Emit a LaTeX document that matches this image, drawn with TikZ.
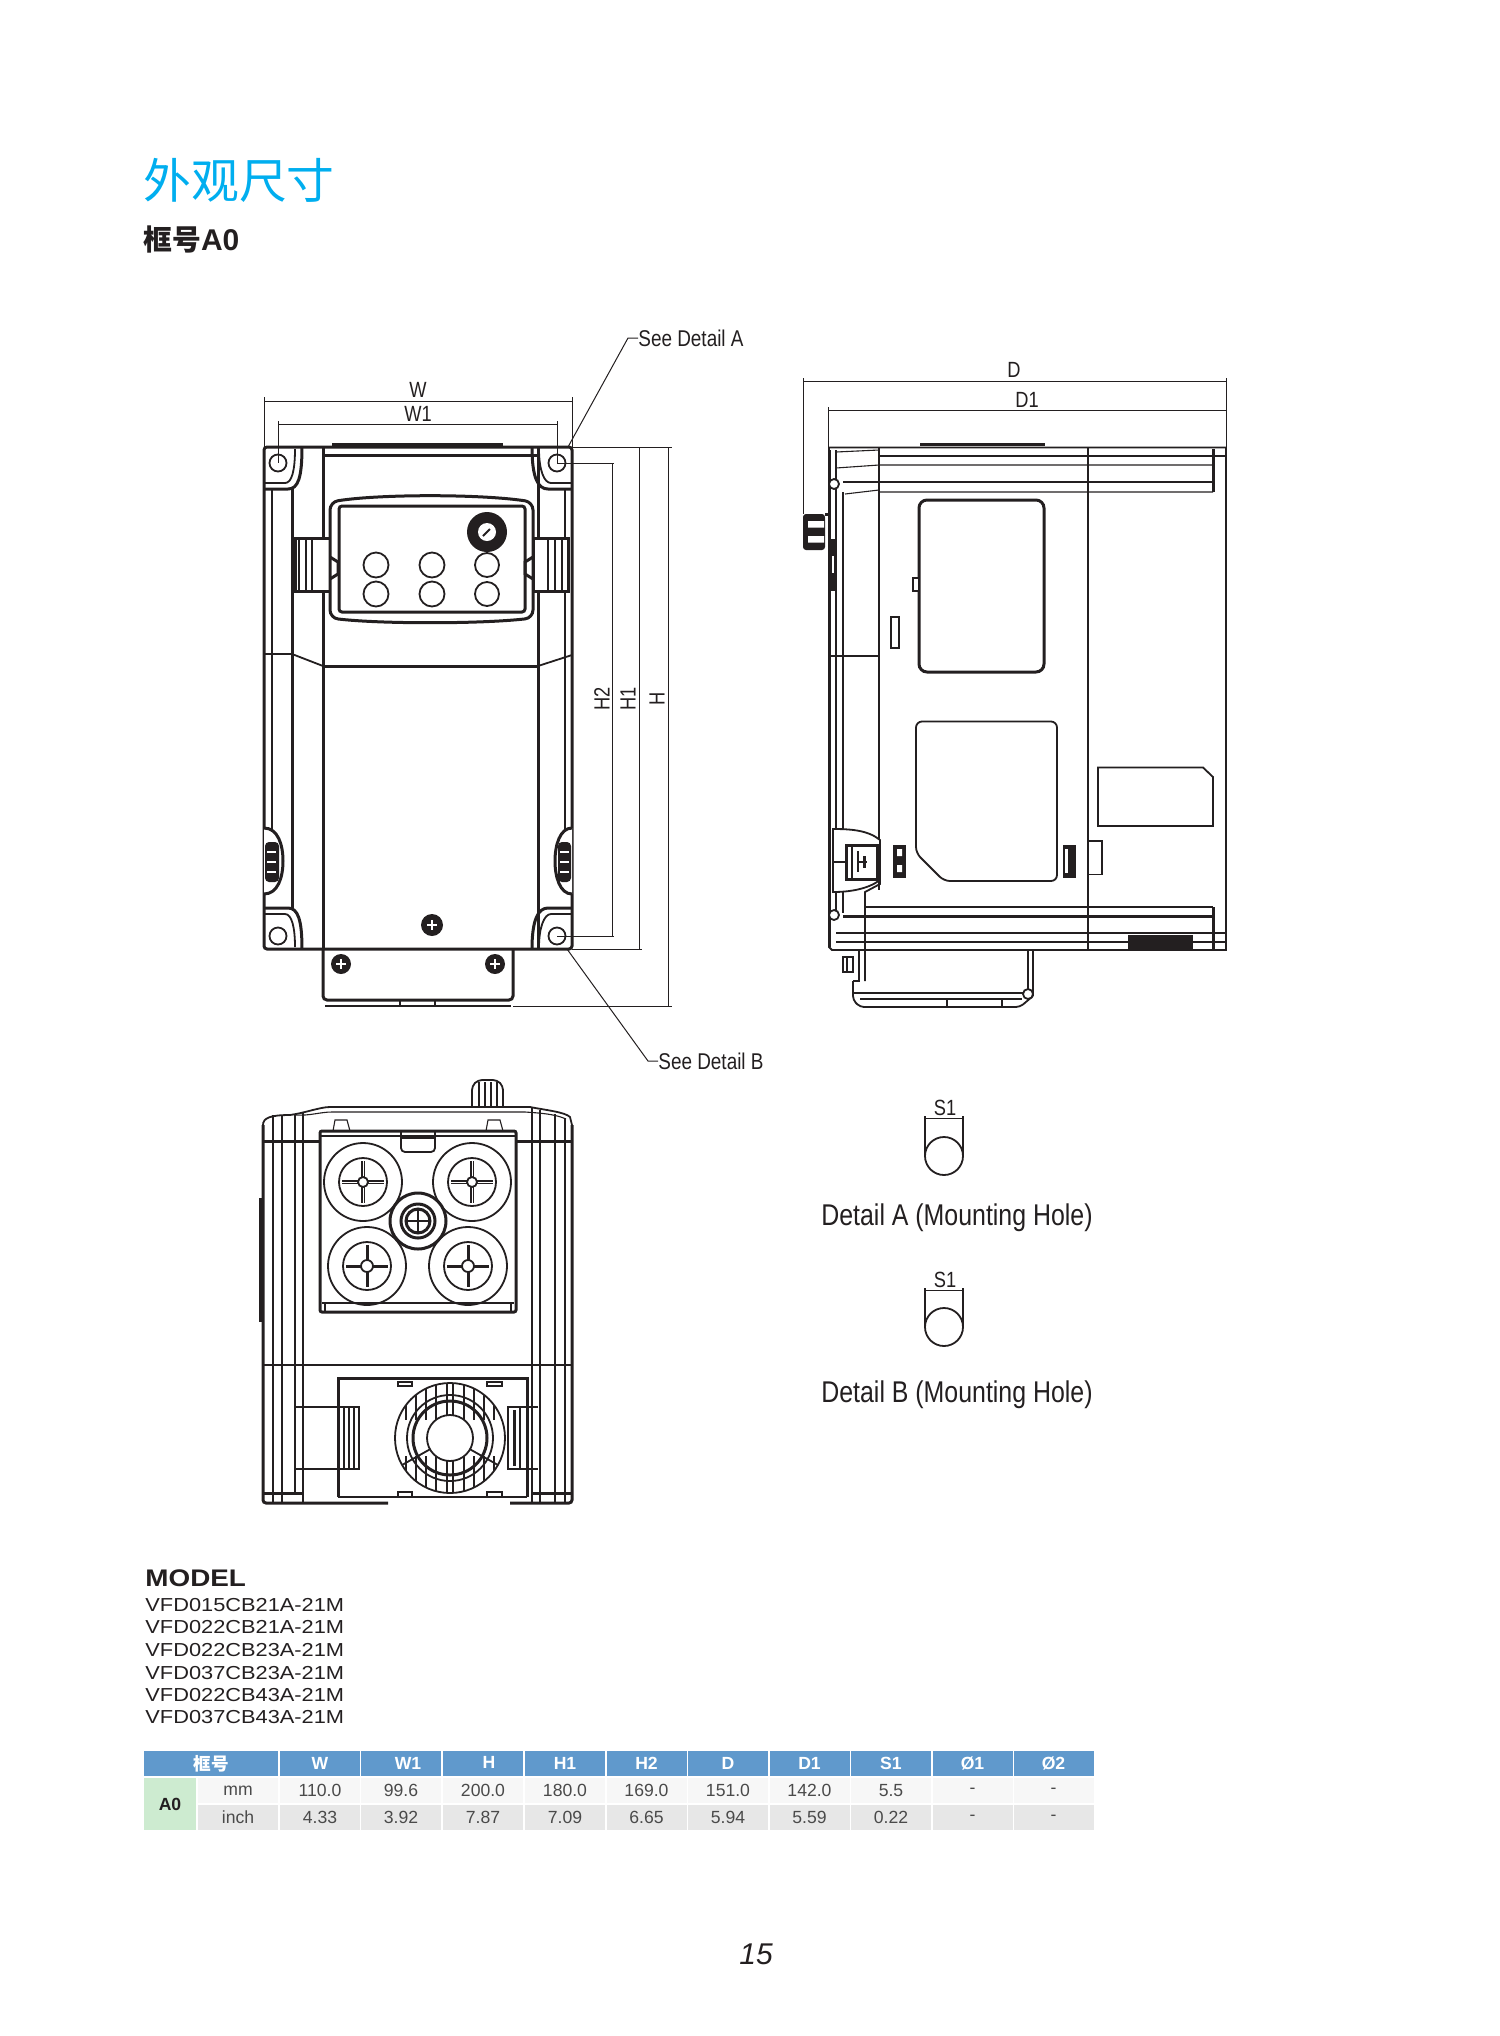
\documentclass[tikz,border=0pt]{standalone}
\usepackage{fontspec}
\setmainfont{Liberation Sans}
\newfontfamily\cjkfont{Noto Sans CJK SC}
\newfontfamily\narrowfont[FakeStretch=0.83]{Liberation Sans}
\newfontfamily\widefont[FakeStretch=1.16]{Liberation Sans}
\definecolor{inkline}{HTML}{231F20}
\definecolor{titleblue}{HTML}{00AEEF}
\definecolor{headblue}{HTML}{6099CC}
\definecolor{framegreen}{HTML}{CDEBD0}
\definecolor{rowlight}{HTML}{F7F7F7}
\definecolor{rowdark}{HTML}{E7E7E7}
\definecolor{cellink}{HTML}{4A4A4A}

\begin{document}
\begin{tikzpicture}
[x=0.5pt,y=-0.5pt]
\tikzset{
	thinline/.style = {draw=inkline, line width=0.55pt},
	midline/.style = {draw=inkline, line width=0.9pt},
	heavyline/.style = {draw=inkline, line width=1.5pt},
	dimline/.style = {draw=inkline, line width=0.5pt},
	dimlabel/.style = {inner sep=0, text=inkline, font=\narrowfont\fontsize{11}{13}\selectfont},
	seelabel/.style = {inner sep=0, anchor=west, text=inkline, font=\narrowfont\fontsize{11.4}{14}\selectfont},
	detaillabel/.style = {inner sep=0, text=inkline, font=\narrowfont\fontsize{15}{18}\selectfont},
	modellabel/.style = {inner sep=0, anchor=west, text=inkline, font=\widefont\fontsize{9.4}{11}\selectfont},
	headcell/.style = {inner sep=0, fill=headblue, text=white, minimum width=40pt, minimum height=12.5pt, font=\bfseries\fontsize{8.8}{10}\selectfont},
	lightcell/.style = {inner sep=0, fill=rowlight, text=cellink, minimum width=40pt, minimum height=12.5pt, font=\fontsize{8.8}{10}\selectfont},
	darkcell/.style = {inner sep=0, fill=rowdark, text=cellink, minimum width=40pt, minimum height=12.5pt, font=\fontsize{8.8}{10}\selectfont}
}
\useasboundingbox (0,0) rectangle (1500,2036);

\node (title) [inner sep=0, anchor=west, text=titleblue, font=\cjkfont\fontsize{23.9}{28}\selectfont] at (143,180) {外观尺寸};
\node (frame) [inner sep=0, anchor=west, text=inkline, font=\fontsize{14.4}{16}\selectfont] at (143,239) {{\cjkfont\bfseries 框号}{\bfseries\fontsize{15}{16}\selectfont A0}};

% front view
\draw [heavyline, rounded corners=1.5pt] (264,447) rectangle (572,949);
\draw [heavyline] (323,447) -- (323,949);
\draw [heavyline] (538,447) -- (538,949);
\draw [heavyline] (323,455) -- (538,455);
\draw [heavyline] (332,444.5) -- (503,444.5);
\draw [heavyline] (292,489) -- (292,908);
\draw [midline] (272,489) -- (272,833);
\draw [thinline] (565,489) -- (565,833);
\draw [heavyline] (323,666) -- (538,666);
\draw [midline] (264,654) -- (292,654) -- (323,666);
\draw [midline] (538,666) -- (572,655);
\draw [heavyline] (264,489) -- (288,489) .. controls (298,489) and (302,478) .. (302,447);
\draw [midline] (264,483) -- (285,483) .. controls (292,483) and (295,470) .. (295,449);
\draw [heavyline] (572,489) -- (548,489) .. controls (538,489) and (532,478) .. (532,447);
\draw [midline] (572,483) -- (551,483) .. controls (544,483) and (539,470) .. (539,449);
\draw [heavyline] (264,908) -- (288,908) .. controls (298,908) and (302,920) .. (302,949);
\draw [midline] (264,914) -- (285,914) .. controls (292,914) and (295,928) .. (295,947);
\draw [heavyline] (572,908) -- (548,908) .. controls (538,908) and (532,920) .. (532,949);
\draw [midline] (572,914) -- (551,914) .. controls (544,914) and (539,928) .. (539,947);
\draw [midline] (278,463) circle (8.5);
\draw [midline] (557,463) circle (8.5);
\draw [midline] (278,936) circle (8.5);
\draw [midline] (557,936) circle (8.5);
\draw [heavyline, fill=white] (295,538) rectangle (330,591);
\draw [heavyline, fill=white] (533,538) rectangle (568,591);
\draw [thinline] (299,538) -- (299,591) (306,538) -- (306,591) (312,538) -- (312,591);
\draw [thinline] (548,538) -- (548,591) (555,538) -- (555,591) (562,538) -- (562,591);
\draw [heavyline, fill=white, rounded corners=4pt] (330,502) .. controls (380,494) and (480,494) .. (533,502) -- (533,618) .. controls (480,624) and (380,624) .. (330,618) -- cycle;
\draw [heavyline, rounded corners=1.5pt] (339,506) rectangle (525,612);
\draw [heavyline] (330,557) -- (338,562) -- (338,574) -- (330,579);
\draw [heavyline] (533,557) -- (525,562) -- (525,574) -- (533,579);
\draw [fill=inkline, draw=none] (487,532) circle (20);
\draw [fill=white, draw=none] (487,532) circle (9);
\draw [midline] (483,536) -- (490,529);
\draw [midline] (376,565) circle (12.5);
\draw [midline] (432,565) circle (12.5);
\draw [midline] (487,565) circle (12);
\draw [midline] (376,594) circle (12.5);
\draw [midline] (432,594) circle (12.5);
\draw [midline] (487,594) circle (12);
\draw [heavyline, fill=white] (264,828) .. controls (278,828) and (283,845) .. (283,861) .. controls (283,877) and (278,894) .. (264,894);
\draw [heavyline, fill=white] (572,828) .. controls (560,828) and (555,845) .. (555,861) .. controls (555,877) and (560,894) .. (572,894);
\draw [fill=inkline, draw=none, rounded corners=2pt] (265,842) rectangle (279,882);
\draw [fill=inkline, draw=none, rounded corners=2pt] (558,842) rectangle (571,882);
\draw [thinline, draw=white] (267,852) -- (276,852) (267,862) -- (276,862) (267,872) -- (276,872);
\draw [thinline, draw=white] (560,852) -- (569,852) (560,862) -- (569,862) (560,872) -- (569,872);
\draw [fill=inkline, draw=none] (432,925) circle (11);
\draw [draw=white, line width=0.8pt] (427,925) -- (437,925) (432,920) -- (432,930);
\draw [heavyline, rounded corners=2pt] (323,949) -- (323,1000) -- (513,1000) -- (513,949);
\draw [midline] (325,1006) -- (400,1006) -- (400,1000) (400,1006) -- (435,1006) -- (435,1000) (435,1006) -- (511,1006);
\draw [fill=inkline, draw=none] (341,964) circle (10);
\draw [fill=inkline, draw=none] (495,964) circle (10);
\draw [draw=white, line width=0.6pt] (336,964) -- (346,964) (341,959) -- (341,969) (490,964) -- (500,964) (495,959) -- (495,969);

% front dimensions
\coordinate (wL) at (264,401);
\coordinate (wR) at (572,401);
\coordinate (wOne) at (278,424);
\coordinate (wOneR) at (557,424);
\coordinate (holeA) at (557,463);
\coordinate (holeB) at (557,936);
\draw [dimline] (264,397) -- (264,447) (572,397) -- (572,447);
\draw [dimline] (278,421) -- (278,463) (557,421) -- (557,463);
\draw [dimline] (wL) -- (wR);
\draw [dimline] (wOne) -- (wOneR);
\node (labelW) [dimlabel] at (418,390) {W};
\node (labelWone) [dimlabel] at (418,413.5) {W1};
\coordinate (hTop) at (668,447);
\coordinate (hBot) at (668,1007);
\coordinate (hOneTop) at (639,447);
\coordinate (hOneBot) at (639,950);
\coordinate (hTwoTop) at (612,463);
\coordinate (hTwoBot) at (612,936);
\draw [dimline] (572,447) -- (672,447);
\draw [dimline] (holeA) -- (614,463);
\draw [dimline] (holeB) -- (614,936);
\draw [dimline] (572,949.5) -- (642,949.5);
\draw [dimline] (513,1006.5) -- (672,1006.5);
\draw [dimline] (hTop) -- (hBot);
\draw [dimline] (hOneTop) -- (hOneBot);
\draw [dimline] (hTwoTop) -- (hTwoBot);
\node (labelH) [dimlabel, rotate=90] at (657,699) {H};
\node (labelHone) [dimlabel, rotate=90] at (628,699) {H1};
\node (labelHtwo) [dimlabel, rotate=90] at (602,699) {H2};
\node (seeA) [seelabel] at (638,338) {See Detail A};
\node (seeB) [seelabel] at (658,1061) {See Detail B};
\coordinate (cornerA) at (568,447);
\coordinate (elbowA) at (628,338);
\coordinate (cornerB) at (567,949);
\coordinate (elbowB) at (648,1061);
\draw [dimline] (cornerA) -- (elbowA) -- (seeA.west);
\draw [dimline] (cornerB) -- (elbowB) -- (seeB.west);

% side view
\draw [midline] (829,447.5) -- (1226,447.5) -- (1226,950) -- (832,950) -- (829,947) -- cycle;
\draw [heavyline] (829,450) -- (829,947);
\draw [midline] (879,447.5) -- (879,890);
\draw [midline] (1088,447.5) -- (1088,950);
\draw [heavyline] (920,444.5) -- (1045,444.5);
\draw [thinline] (879,456) -- (1226,456);
\draw [thinline] (836,452) -- (879,450);
\draw [thinline] (836,468) -- (879,465) -- (1213,465);
\draw [midline] (843,482) -- (1213,482);
\draw [thinline] (845,494) -- (879,490) -- (879,492) -- (1213,492);
\draw [heavyline] (1213,449) -- (1213,492);
\draw [thinline] (836,450) -- (836,915);
\draw [midline] (843,492) -- (843,913);
\draw [midline] (830,656) -- (879,656);
\draw [midline, fill=white] (834,484) circle (5);
\draw [midline] (865,907) -- (1213,907);
\draw [heavyline] (843,916) -- (1213,916);
\draw [thinline] (836,933) -- (1226,933);
\draw [thinline] (836,942) -- (1226,942);
\draw [heavyline] (1213,907) -- (1213,950);
\draw [midline, fill=white] (834,915) circle (5);
\draw [heavyline, rounded corners=4pt] (919,500) rectangle (1044,672);
\draw [thinline, fill=white] (913,578) rectangle (919,591);
\draw [midline] (891,617) rectangle (899,648);
\draw [midline, rounded corners=3pt] (944,881) -- (916,853) -- (916,721.5) -- (1057,721.5) -- (1057,881) -- cycle;
\draw [midline] (1098,767.5) -- (1203,767.5) -- (1213,777) -- (1213,826) -- (1098,826) -- cycle;
\draw [thinline] (1088,841) -- (1102,841) -- (1102,874.5) -- (1088,874.5);
\draw [fill=inkline, draw=none] (893,845) rectangle (906,877.5);
\draw [fill=white, draw=none] (897,849) rectangle (902,856) (897,865) rectangle (902,872);
\draw [fill=inkline, draw=none] (1063,845) rectangle (1076,877.5);
\draw [fill=white, draw=none] (1065,849) rectangle (1068,873);
\draw [fill=inkline, draw=none] (1128,935) rectangle (1193,950);
\draw [fill=inkline, draw=none, rounded corners=1.5pt] (803,514) rectangle (825,550);
\draw [fill=white, draw=none] (808,521) rectangle (824,527.5) (808,536) rectangle (824,542.5);
\draw [fill=inkline, draw=none] (829,539) rectangle (837,591);
\draw [fill=white, draw=none] (832,556) rectangle (834,573);
\draw [heavyline, fill=white] (825,514) -- (829,514) -- (829,548);
\draw [midline, fill=white] (880,840) .. controls (868,830) and (850,829) .. (833,829) -- (833,892) .. controls (850,892) and (868,889) .. (880,880) -- cycle;
\draw [heavyline] (846,845) rectangle (877,879);
\draw [midline] (852,845) -- (852,879) (858,851) -- (858,872) (858,862) -- (867,862);
\draw [heavyline] (864,856) -- (864,868);
\draw [thinline] (833,862) -- (846,862);
\draw [midline] (880,880) -- (880,884) -- (865,892) -- (865,981);
\draw [midline] (1033,950) -- (1033,996);
\draw [midline] (1028,950) -- (1028,990);
\draw [midline] (859,950) -- (859,981) -- (853,981);
\draw [midline, rounded corners=2pt] (853,981) -- (853,1000) -- (860,1007) -- (1020,1007) -- (1033,996);
\draw [midline] (853,993) -- (1028,993);
\draw [thinline] (860,999) -- (1022,999);
\draw [thinline] (1002,1000) -- (1002,1007) (947,999) -- (947,1007);
\draw [midline, fill=white] (1028,994) circle (5);
\draw [midline] (843,957) rectangle (853,972);
\draw [thinline] (847,957) -- (847,972);

% side dimensions
\coordinate (dL) at (803,381);
\coordinate (dR) at (1226,381);
\coordinate (dOneL) at (828,410);
\coordinate (dOneR) at (1226,410);
\draw [dimline] (803,378) -- (803,514);
\draw [dimline] (1226,378) -- (1226,447.5);
\draw [dimline] (828,407) -- (828,447.5);
\draw [dimline] (dL) -- (dR);
\draw [dimline] (dOneL) -- (dOneR);
\node (labelD) [dimlabel] at (1014,370) {D};
\node (labelDone) [dimlabel] at (1027,400) {D1};

% bottom view
\draw [heavyline, rounded corners=1.5pt] (263,1125) -- (263,1503) -- (388,1503);
\draw [heavyline, rounded corners=1.5pt] (510,1503) -- (572,1503) -- (572,1125);
\draw [midline] (263,1125) .. controls (263,1118) and (270,1115) .. (290,1115) .. controls (305,1113) and (320,1107) .. (330,1107) -- (530,1107) .. controls (545,1110) and (565,1112) .. (570,1117) -- (572,1125);
\draw [thinline] (295,1115) .. controls (310,1116) and (320,1112) .. (332,1112) -- (525,1112) .. controls (540,1113) and (555,1114) .. (566,1119);
\draw [heavyline] (263,1141) -- (320,1141);
\draw [heavyline] (516,1141) -- (572,1141);
\draw [midline] (273,1115) -- (273,1503) (282,1115) -- (282,1503);
\draw [thinline] (295,1115) -- (295,1492);
\draw [midline] (303,1112) -- (303,1503);
\draw [midline] (532,1107) -- (532,1503) (540,1110) -- (540,1503);
\draw [midline] (555,1114) -- (555,1503) (565,1118) -- (565,1503);
\draw [midline] (263,1365) -- (572,1365);
\draw [heavyline] (263,1493) -- (302,1493);
\draw [heavyline] (532,1493) -- (572,1493);
\draw [line width=2pt, draw=inkline] (261,1198) -- (261,1322);
\draw [fill=white, heavyline, rounded corners=1pt] (320,1131) rectangle (516,1312);
\draw [midline] (320,1136) -- (516,1136);
\draw [midline] (322,1303) -- (514,1303);
\draw [thinline] (325,1303) -- (325,1312) (511,1303) -- (511,1312);
\draw [thinline] (333,1131) -- (335,1120) -- (347,1120) -- (350,1131);
\draw [thinline] (486,1131) -- (488,1120) -- (500,1120) -- (503,1131);
\draw [midline, rounded corners=2pt] (401,1131) -- (401,1152) -- (435,1152) -- (435,1131);
\draw [thinline] (401,1138) -- (435,1138);
\draw [midline] (363,1182) circle (39);
\draw [midline] (363,1182) circle (24);
\draw [midline] (472,1182) circle (39);
\draw [midline] (472,1182) circle (24);
\draw [midline] (367,1266) circle (39);
\draw [midline] (367,1266) circle (24);
\draw [midline] (468,1266) circle (39);
\draw [midline] (468,1266) circle (24);
\draw [midline, double=white, double distance=0.5pt] (342,1182) -- (384,1182) (363,1161) -- (363,1203);
\draw [midline, double=white, double distance=0.5pt] (451,1182) -- (493,1182) (472,1161) -- (472,1203);
\draw [heavyline] (346,1266) -- (388,1266) (367,1245) -- (367,1287);
\draw [heavyline] (447,1266) -- (489,1266) (468,1245) -- (468,1287);
\draw [midline, fill=white] (363,1182) circle (5);
\draw [midline, fill=white] (472,1182) circle (5);
\draw [midline, fill=white] (367,1266) circle (6);
\draw [midline, fill=white] (468,1266) circle (6);
\draw [heavyline, fill=white] (418,1221) circle (28);
\draw [heavyline] (418,1221) circle (17);
\draw [heavyline] (418,1221) circle (12);
\draw [thinline] (407,1221) -- (429,1221) (418,1210) -- (418,1232);
\draw [midline, rounded corners=2pt] (472,1107) -- (472,1086) -- (478,1080) -- (497,1080) -- (503,1086) -- (503,1107);
\draw [thinline] (479,1082) -- (479,1106) (485,1082) -- (485,1106) (491,1082) -- (491,1106) (497,1082) -- (497,1106);

\draw [heavyline, fill=white] (338,1497) -- (338,1378) -- (527,1378) -- (527,1497);
\draw [midline] (338,1497) -- (527,1497);
\draw [midline] (340,1503) -- (388,1503);
\draw [thinline] (398,1386) -- (398,1382) -- (412,1382) -- (412,1386) -- cycle;
\draw [thinline] (487,1386) -- (487,1382) -- (502,1382) -- (502,1386) -- cycle;
\draw [thinline] (398,1497) -- (398,1492) -- (412,1492) -- (412,1497);
\draw [thinline] (487,1497) -- (487,1492) -- (502,1492) -- (502,1497);
\draw [midline, fill=white] (295,1407) -- (338,1407) (338,1469) -- (295,1469);
\draw [midline] (338,1407) rectangle (359,1469);
\draw [thinline] (344,1407) -- (344,1469) (349,1407) -- (349,1469) (354,1407) -- (354,1469);
\draw [midline] (538,1407) -- (508,1407) -- (508,1469) -- (538,1469);
\draw [heavyline] (514,1410) -- (514,1466);
\draw [thinline] (520,1407) -- (520,1469);
\begin{scope}
\clip (450,1438) circle (55);
\draw [midline] (406,1383) -- (406,1493) (416,1383) -- (416,1493) (426,1383) -- (426,1493) (436,1383) -- (436,1493) (447,1383) -- (447,1493) (453,1383) -- (453,1493) (464,1383) -- (464,1493) (474,1383) -- (474,1493) (484,1383) -- (484,1493) (494,1383) -- (494,1493);
\end{scope}
\draw [fill=white, draw=none] (395,1420) rectangle (505,1456);
\draw [midline] (450,1438) circle (55);
\draw [midline] (450,1438) circle (43);
\draw [heavyline] (450,1438) circle (37);
\draw [midline] (447,1383) -- (447,1415) (453,1383) -- (453,1415);
\draw [midline] (450,1438) -- (402,1465) (450,1438) -- (498,1465);
\draw [fill=white, midline] (450,1438) circle (23);

% details
\node (labelSa) [dimlabel] at (945,1108) {S1};
\coordinate (sAL) at (925,1118);
\coordinate (sAR) at (963,1118);
\draw [dimline] (sAL) -- (sAR);
\draw [midline] (925,1116) -- (925,1156) (963,1116) -- (963,1156);
\draw [midline] (944,1156) circle (19);
\node (detailA) [detaillabel] at (957,1217.5) {Detail A (Mounting Hole)};
\node (labelSb) [dimlabel] at (945,1280) {S1};
\coordinate (sBL) at (925,1290);
\coordinate (sBR) at (963,1290);
\draw [dimline] (sBL) -- (sBR);
\draw [midline] (925,1288) -- (925,1327) (963,1288) -- (963,1327);
\draw [midline] (944,1327) circle (19);
\node (detailB) [detaillabel] at (957,1394.5) {Detail B (Mounting Hole)};

% model list
\node (modelHead) [inner sep=0, anchor=west, text=inkline, font=\widefont\bfseries\fontsize{12}{14}\selectfont] at (145,1578) {MODEL};
\node (modelOne) [modellabel] at (145,1605) {VFD015CB21A-21M};
\node (modelTwo) [modellabel] at (145,1627) {VFD022CB21A-21M};
\node (modelThree) [modellabel] at (145,1650) {VFD022CB23A-21M};
\node (modelFour) [modellabel] at (145,1673) {VFD037CB23A-21M};
\node (modelFive) [modellabel] at (145,1695) {VFD022CB43A-21M};
\node (modelSix) [modellabel] at (145,1717) {VFD037CB43A-21M};

% table
\node (headFrame) [headcell, minimum width=67pt] at (211,1763.5) {\cjkfont\bfseries 框号};
\node (headW) [headcell] at (320,1763.5) {W};
\node (headWone) [headcell] at (401,1763.5) {\hspace{7pt}W1};
\node (headH) [headcell] at (483,1763.5) {\hspace{6pt}\raisebox{1pt}{H}};
\node (headHone) [headcell] at (565,1763.5) {H1};
\node (headHtwo) [headcell] at (646.5,1763.5) {H2};
\node (headD) [headcell] at (728,1763.5) {D};
\node (headDone) [headcell] at (809.5,1763.5) {D1};
\node (headS) [headcell] at (891,1763.5) {S1};
\node (headPone) [headcell] at (972.5,1763.5) {Ø1};
\node (headPtwo) [headcell] at (1053.5,1763.5) {Ø2};
\node (frameA) [inner sep=0, fill=framegreen, text=inkline, minimum width=26pt, minimum height=26pt, font=\bfseries\fontsize{8.8}{10}\selectfont] at (170,1804) {A0};
\node (rowMm) [lightcell] at (238,1790.5) {mm};
\node (mmW) [lightcell] at (320,1790.5) {110.0};
\node (mmWone) [lightcell] at (401,1790.5) {99.6};
\node (mmH) [lightcell] at (483,1790.5) {200.0};
\node (mmHone) [lightcell] at (565,1790.5) {180.0};
\node (mmHtwo) [lightcell] at (646.5,1790.5) {169.0};
\node (mmD) [lightcell] at (728,1790.5) {151.0};
\node (mmDone) [lightcell] at (809.5,1790.5) {142.0};
\node (mmS) [lightcell] at (891,1790.5) {5.5};
\node (mmPone) [lightcell] at (972.5,1790.5) {-};
\node (mmPtwo) [lightcell] at (1053.5,1790.5) {-};
\node (rowInch) [darkcell] at (238,1817.5) {inch};
\node (inW) [darkcell] at (320,1817.5) {4.33};
\node (inWone) [darkcell] at (401,1817.5) {3.92};
\node (inH) [darkcell] at (483,1817.5) {7.87};
\node (inHone) [darkcell] at (565,1817.5) {7.09};
\node (inHtwo) [darkcell] at (646.5,1817.5) {6.65};
\node (inD) [darkcell] at (728,1817.5) {5.94};
\node (inDone) [darkcell] at (809.5,1817.5) {5.59};
\node (inS) [darkcell] at (891,1817.5) {0.22};
\node (inPone) [darkcell] at (972.5,1817.5) {-};
\node (inPtwo) [darkcell] at (1053.5,1817.5) {-};

\node (pageNo) [inner sep=0, text=inkline, font=\itshape\fontsize{15}{18}\selectfont] at (756,1954) {15};
\end{tikzpicture}
\end{document}
